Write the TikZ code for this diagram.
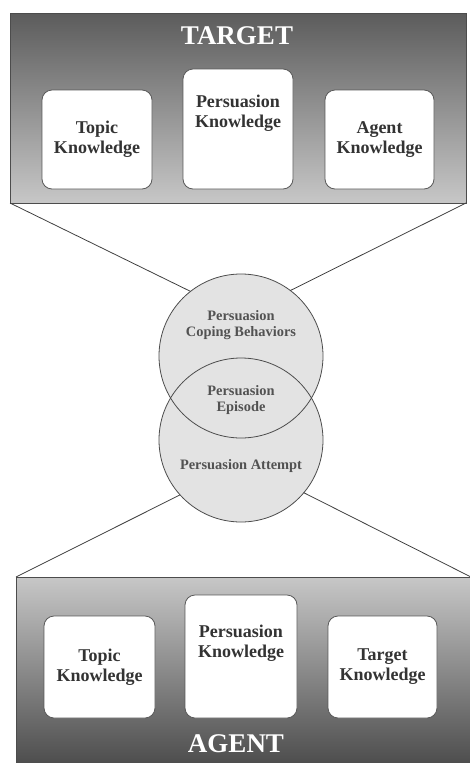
\documentclass[tikz,border=0pt]{standalone}
\usepackage{fontspec}
\setmainfont{Liberation Serif}
\begin{document}
\begin{tikzpicture}[x=1pt,y=-1pt,
 panel/.style={draw=black!70, line width=0.6pt, inner sep=0pt, outer sep=0pt, anchor=north west},
 kbox/.style={draw=black!65, line width=0.8pt, fill=white, rounded corners=10pt, inner sep=0pt, align=center, font=\fontsize{18}{20}\selectfont\bfseries, text=black!80},
 ktext/.style={align=center, font=\fontsize{18}{20}\selectfont\bfseries, text=black!80},
 title/.style={font=\fontsize{27}{30}\selectfont\bfseries, text=white},
 ctext/.style={align=center, font=\fontsize{14.4}{16}\selectfont\bfseries, text=black!68},
 disc/.style={circle, fill=black!11, minimum size=164pt, inner sep=0pt, outer sep=0pt},
 link/.style={draw=black!75, line width=0.8pt},
 circ/.style={draw=black!70, line width=0.8pt}]
\useasboundingbox (0,0) rectangle (469,763);
% panels
\node[panel, minimum width=456pt, minimum height=190pt, top color=black!64, bottom color=black!22] (tp) at (10,13) {};
\node[panel, minimum width=455pt, minimum height=188pt, top color=black!22, bottom color=black!70] (bp) at (16,577) {};
% circles
\node[disc] (uc) at (241,356) {};
\node[disc] (lc) at (241,440) {};
\draw[circ] (uc.center) circle[radius=82pt];
\draw[circ] (lc.center) circle[radius=82pt];
% connectors
\draw[link] (tp.south west) -- (uc.128);
\draw[link] (tp.south east) -- (uc.53);
\draw[link] (bp.north west) -- (lc.222);
\draw[link] (bp.north east) -- (lc.320);
% circle texts
\node[ctext] (t1) at (241,325) {Persuasion\\Coping Behaviors};
\node[ctext] (t2) at (241,400) {Persuasion\\Episode};
\node[ctext] (t3) at (241,466) {Persuasion Attempt};
% titles
\node[title] (ttl) at (237,36) {TARGET};
\node[title] (atl) at (236,744) {AGENT};
% target boxes
\node[kbox, minimum width=110pt, minimum height=99pt] (tk1) at (97,139.5) {Topic\\Knowledge};
\node[kbox, minimum width=110pt, minimum height=120pt] (tk2) at (238,129) {};
\node[ktext] (tk2t) at (238,113) {Persuasion\\Knowledge};
\node[kbox, minimum width=109pt, minimum height=99pt] (tk3) at (379.5,139.5) {Agent\\Knowledge};
% agent boxes
\node[kbox, minimum width=111pt, minimum height=102pt] (ak1) at (99.5,667) {Topic\\Knowledge};
\node[kbox, minimum width=112pt, minimum height=123pt] (ak2) at (241,656.5) {};
\node[ktext] (ak2t) at (241,643) {Persuasion\\Knowledge};
\node[kbox, minimum width=109pt, minimum height=102pt] (ak3) at (382.5,667) {Target\\Knowledge};
\end{tikzpicture}
\end{document}
